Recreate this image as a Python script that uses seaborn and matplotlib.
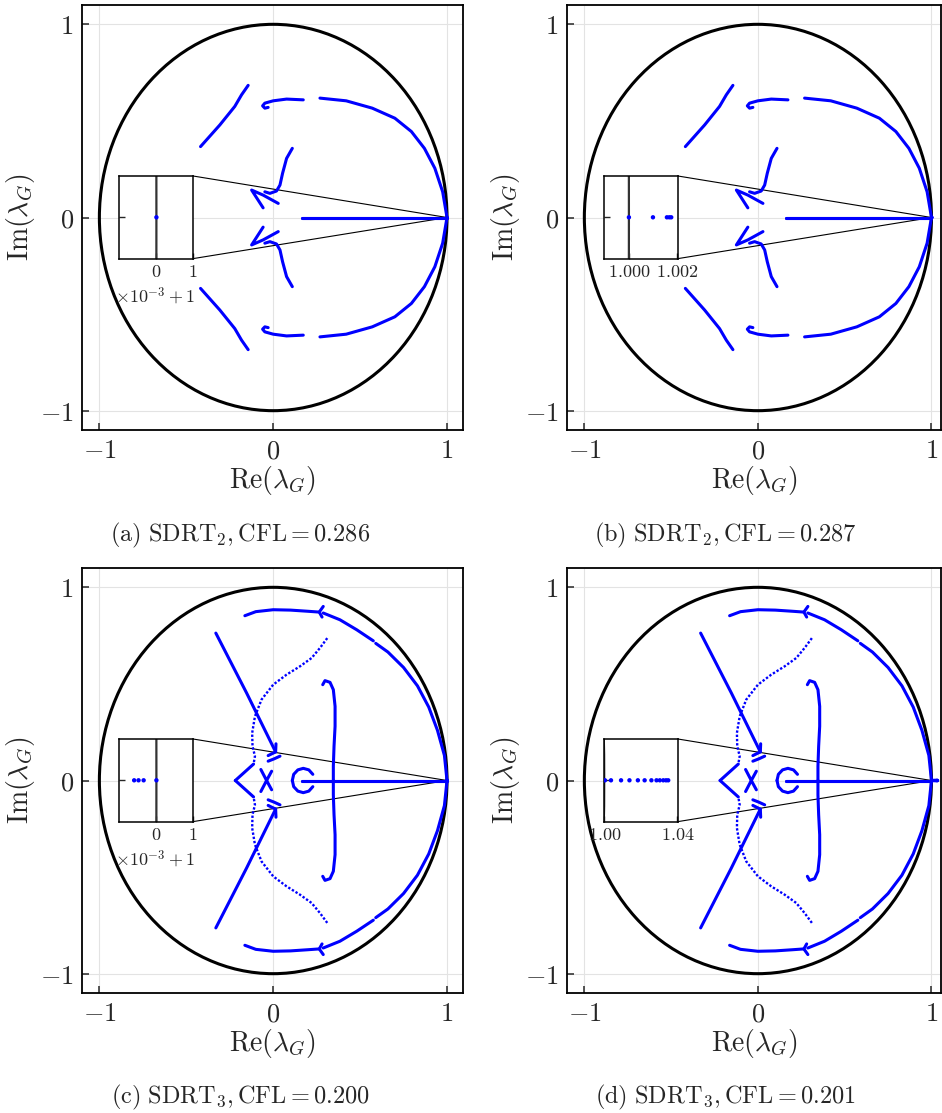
import matplotlib
matplotlib.use('Agg')
import matplotlib.pyplot as plt
import seaborn as sns
import pandas as pd
from matplotlib.patches import Circle, ConnectionPatch

# ---- SDRT2 eigenvalue branches (upper half plane, mirrored below) ----
s2_outer_re = [1.0, 0.975, 0.93, 0.87, 0.795, 0.70, 0.57, 0.42, 0.269]
s2_outer_im = [0.0, 0.133, 0.255, 0.358, 0.445, 0.514, 0.566, 0.604, 0.618]
s2_hook_re = [0.173, 0.077, 0.0, -0.048, -0.061, -0.048, -0.029]
s2_hook_im = [0.609, 0.613, 0.604, 0.592, 0.578, 0.566, 0.570]
s2_diag_re = [-0.418, -0.307, -0.221, -0.182, -0.144]
s2_diag_im = [0.367, 0.479, 0.575, 0.635, 0.684]
s2_scurve_re = [0.110, 0.077, 0.054, 0.039, 0.019, -0.019, -0.048]
s2_scurve_im = [0.358, 0.306, 0.229, 0.168, 0.137, 0.125, 0.133]
s2_arrow_re = [0.029, -0.058, -0.124, -0.058]
s2_arrow_im = [0.073, 0.116, 0.142, 0.050]
s2_real_re = [0.163, 0.5, 1.0]
s2_real_im = [0.0, 0.0, 0.0]

# ---- SDRT3 eigenvalue branches ----
s3_outer1_re = [1.0, 0.985, 0.945, 0.895, 0.83, 0.75, 0.66, 0.59]
s3_outer1_im = [0.0, 0.13, 0.26, 0.38, 0.49, 0.585, 0.665, 0.71]
s3_outer2_re = [0.576, 0.481, 0.384, 0.288]
s3_outer2_im = [0.723, 0.780, 0.832, 0.867]
s3_head_re = [0.288, 0.265, 0.281]
s3_head_im = [0.901, 0.872, 0.846]
s3_top_re = [-0.163, -0.1, 0.0, 0.1, 0.2, 0.262]
s3_top_im = [0.853, 0.874, 0.884, 0.882, 0.876, 0.872]
s3_diag_re = [-0.330, -0.153, 0.014]
s3_diag_im = [0.763, 0.453, 0.148]
s3_dhead_re = [0.016, 0.014, -0.029]
s3_dhead_im = [0.19, 0.148, 0.129]
s3_dhook_re = [-0.029, 0.005, 0.039]
s3_dhook_im = [0.100, 0.112, 0.126]
s3_wing_re = [0.311, 0.269, 0.221, 0.154, 0.077, 0.0, -0.067, -0.105, -0.121, -0.119, -0.105, -0.113]
s3_wing_im = [0.737, 0.686, 0.634, 0.591, 0.548, 0.496, 0.419, 0.332, 0.246, 0.177, 0.126, 0.085]
s3_vee_re = [-0.113, -0.218]
s3_vee_im = [0.085, 0.0]
s3_cross_re = [-0.071, -0.038, -0.009]
s3_cross_im = [0.057, 0.0, 0.048]
s3_ring_re = [0.228, 0.205, 0.173, 0.142, 0.118, 0.110]
s3_ring_im = [0.032, 0.055, 0.063, 0.055, 0.032, 0.0]
s3_bracket_re = [0.285, 0.298, 0.327, 0.346, 0.356, 0.356, 0.350, 0.346, 0.346]
s3_bracket_im = [0.496, 0.517, 0.508, 0.470, 0.384, 0.281, 0.177, 0.074, 0.0]
s3_real_re = [0.164, 0.5, 1.0]
s3_real_im = [0.0, 0.0, 0.0]

# ---- eigenvalues near 1 shown in the zoomed insets ----
ins_a_re = [1.0]
ins_b_re = [1.0, 1.00100, 1.00158, 1.00168, 1.00176]
ins_c_re = [0.99939, 0.99951, 0.99965, 1.0]
ins_d_re = [1.0004, 1.0037, 1.0092, 1.0138, 1.0184, 1.0221, 1.0258,
            1.0286, 1.0304, 1.0323, 1.0338, 1.0350]

captions = [r'$\mathrm{(a)\ SDRT_2, CFL = 0.286}$',
            r'$\mathrm{(b)\ SDRT_2, CFL = 0.287}$',
            r'$\mathrm{(c)\ SDRT_3, CFL = 0.200}$',
            r'$\mathrm{(d)\ SDRT_3, CFL = 0.201}$']

s2_solid = [(s2_outer_re, s2_outer_im), (s2_hook_re, s2_hook_im),
            (s2_diag_re, s2_diag_im), (s2_scurve_re, s2_scurve_im),
            (s2_arrow_re, s2_arrow_im), (s2_real_re, s2_real_im)]
s3_solid = [(s3_outer1_re, s3_outer1_im), (s3_outer2_re, s3_outer2_im),
            (s3_head_re, s3_head_im), (s3_top_re, s3_top_im),
            (s3_diag_re, s3_diag_im), (s3_dhead_re, s3_dhead_im),
            (s3_dhook_re, s3_dhook_im), (s3_vee_re, s3_vee_im),
            (s3_cross_re, s3_cross_im), (s3_ring_re, s3_ring_im),
            (s3_bracket_re, s3_bracket_im), (s3_real_re, s3_real_im)]
s3_dotted = [(s3_wing_re, s3_wing_im)]


def mirror(branches):
    # conjugate pairs: every branch drawn above and below the real axis
    rows = []
    for k, (re, im) in enumerate(branches):
        for s in (1, -1):
            for r, i in zip(re, im):
                rows.append((f'{k}_{s}', r, s * i))
    return pd.DataFrame(rows, columns=['branch', 're', 'im'])


sns.set_style('whitegrid', {'grid.color': '#e3e3e3', 'axes.edgecolor': 'black'})
plt.rcParams['mathtext.fontset'] = 'cm'
plt.rcParams['axes.linewidth'] = 1.3

fig = plt.figure(figsize=(9.42, 11.13), dpi=100)
W, H = 942, 1113
boxes = [(82, 430, 381), (567, 430, 374), (82, 993, 381), (567, 993, 374)]
xlims = [(-1.1, 1.092), (-1.1, 1.055), (-1.1, 1.092), (-1.1, 1.055)]
solids = [s2_solid, s2_solid, s3_solid, s3_solid]
dotteds = [[], [], s3_dotted, s3_dotted]
ins_pts = [ins_a_re, ins_b_re, ins_c_re, ins_d_re]
ins_xlims = [(0.99898, 1.001), (0.99897, 1.00203), (0.99898, 1.001), (0.99995, 1.0402)]
ins_ylims = [(-1e-3, 1e-3), (-1e-3, 1e-3), (-1e-3, 1e-3), (-0.02, 0.02)]
ins_ticks = [([1.0, 1.001], ['$0$', '$1$']),
             ([1.0, 1.002], ['$1.000$', '$1.002$']),
             ([1.0, 1.001], ['$0$', '$1$']),
             ([1.0, 1.04], ['$1.00$', '$1.04$'])]
cap_x = [240, 725, 240, 725]
cap_y = [535, 535, 1097, 1097]

for p in range(4):
    left, bottom, width = boxes[p]
    ax = fig.add_axes([left / W, 1 - bottom / H, width / W, 425 / H])
    ax.add_patch(Circle((0, 0), 1, fill=False, ec='black', lw=2.2, zorder=3))
    sns.lineplot(data=mirror(solids[p]), x='re', y='im', units='branch',
                 estimator=None, sort=False, color='blue', lw=2.2, ax=ax,
                 legend=False, zorder=4)
    if dotteds[p]:
        sns.lineplot(data=mirror(dotteds[p]), x='re', y='im', units='branch',
                     estimator=None, sort=False, color='blue', lw=1.7,
                     linestyle=(0, (1, 0.8)), ax=ax, legend=False, zorder=4)
    sns.scatterplot(x=ins_pts[p], y=[0.0] * len(ins_pts[p]), ax=ax,
                    color='blue', s=6, edgecolor='none', zorder=5)
    ax.set_xlim(*xlims[p])
    ax.set_ylim(-1.1, 1.1)
    ax.set_xticks([-1, 0, 1], labels=['$-1$', '$0$', '$1$'])
    ax.set_yticks([-1, 0, 1], labels=['$-1$', '$0$', '$1$'])
    ax.tick_params(direction='in', length=5, width=1.1, labelsize=19,
                   bottom=True, left=True, pad=6)
    ax.set_xlabel(r'$\mathrm{Re}(\lambda_G)$', fontsize=20, labelpad=0)
    ax.set_ylabel(r'$\mathrm{Im}(\lambda_G)$', fontsize=20, labelpad=2)

    ins = ax.inset_axes([-0.886, -0.213, 0.424, 0.428], transform=ax.transData)
    ins.set_facecolor('white')
    ins.grid(False)
    ins.add_patch(Circle((0, 0), 1, fill=False, ec='#333333', lw=1.6))
    sns.scatterplot(x=ins_pts[p], y=[0.0] * len(ins_pts[p]), ax=ins,
                    color='blue', s=10, edgecolor='none', zorder=5)
    ins.set_xlim(*ins_xlims[p])
    ins.set_ylim(*ins_ylims[p])
    ins.set_xticks(ins_ticks[p][0], labels=ins_ticks[p][1])
    ins.set_yticks([0], labels=[''])
    ins.set_xlabel('')
    ins.set_ylabel('')
    ins.tick_params(direction='in', length=4, width=1, labelsize=13,
                    bottom=True, left=True, pad=3)
    for sp in ins.spines.values():
        sp.set_linewidth(1.1)
    if p in (0, 2):
        ins.text(1.03, -0.33, r'$\times 10^{-3}+1$', transform=ins.transAxes,
                 ha='right', va='top', fontsize=13)
    # connector lines from the inset corners to the zoomed point (1, 0)
    for corner in [(1, 1), (1, 0)]:
        con = ConnectionPatch(xyA=corner, coordsA=ins.transAxes, xyB=(1, 0),
                              coordsB=ax.transData, color='black', lw=0.8)
        ax.add_artist(con)

    fig.text(cap_x[p] / W, 1 - cap_y[p] / H, captions[p], ha='center',
             va='center', fontsize=17.5)

fig.savefig('out.png', dpi=100)
